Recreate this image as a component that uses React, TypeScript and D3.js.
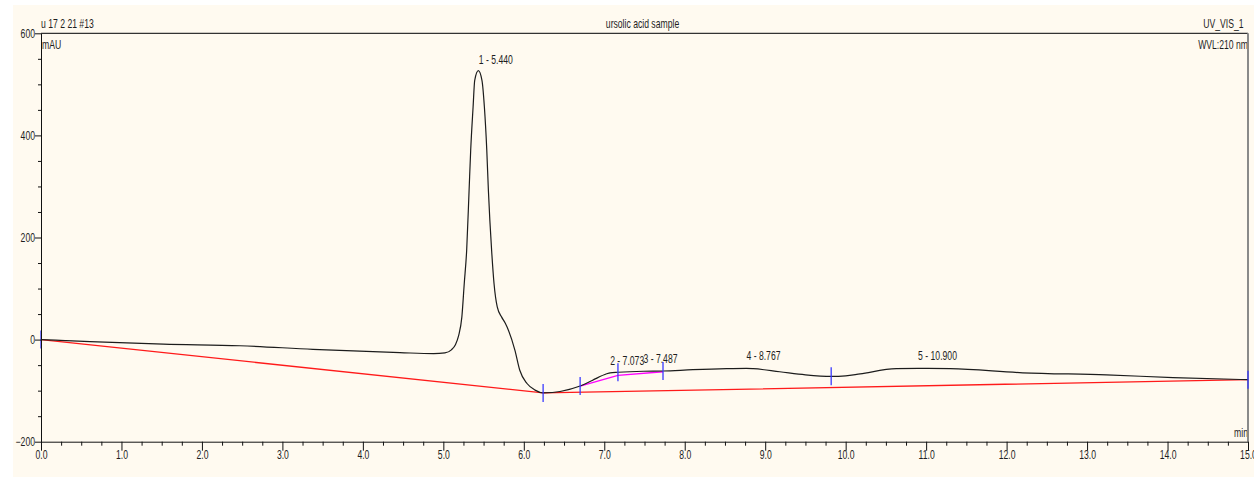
import React, { useEffect, useRef } from 'react'
import * as d3 from 'd3'

// chromatogram trace (min, mAU)
const signalTime = [
  0, 0.3, 0.61, 1.52, 2.47, 3.38, 4.46, 4.88, 5.02, 5.1, 5.15, 5.19, 5.23, 5.26, 5.29,
  5.32, 5.34, 5.37, 5.39, 5.435, 5.48, 5.51, 5.54, 5.56, 5.6, 5.63, 5.67, 5.725, 5.77,
  5.81, 5.89, 5.95, 6.04, 6.14, 6.24, 6.7, 6.85, 7.03, 7.073, 7.17, 7.487, 7.73, 8.1,
  8.52, 8.767, 8.85, 9.18, 9.5, 9.82, 10.0, 10.18, 10.63, 10.9, 11.3, 12.2, 13.24,
  14.07, 15.0,
]
const signalMAU = [
  0, -2, -4, -9, -12, -19, -25.5, -27.5, -26, -20, -10, 8, 44, 110, 175,
  292, 371, 456, 508, 527, 508, 456, 371, 292, 175, 110, 64, 44, 32,
  18, -21, -60, -86, -99, -104.5, -91, -80, -67, -65, -64, -62, -61.5, -59,
  -57, -56.5, -57, -63, -69, -72, -71, -67, -57, -56.5, -57, -65, -69,
  -74.5, -78.5,
]

// integration baselines
const baseTime = [0, 6.24, 15.0]
const baseMAU = [0, -104.5, -78.5]
const subBaseTime = [6.7, 7.17, 7.73]
const subBaseMAU = [-91, -70, -63]

// peak delimiters (min)
const delimiters = [0, 6.24, 6.7, 7.17, 7.73, 9.82, 15.0]

// peak labels
const peakNumber = [1, 2, 3, 4, 5]
const peakTime = ['5.440', '7.073', '7.487', '8.767', '10.900']

const yMajor = [-200, 0, 200, 400, 600]

const W = 1254
const H = 477
const SX = 0.72
const FONT = '"Liberation Sans", Arial, sans-serif'

const x = d3.scaleLinear().domain([0, 15]).range([41, 1248])
const y = d3.scaleLinear().domain([-200, 600]).range([441.7, 33.3])

const interp = (t: number) => {
  const i = d3.bisectLeft(signalTime, t)
  if (i <= 0) return signalMAU[0]
  if (i >= signalTime.length) return signalMAU[signalMAU.length - 1]
  const t0 = signalTime[i - 1], t1 = signalTime[i]
  const k = (t - t0) / (t1 - t0)
  return signalMAU[i - 1] + k * (signalMAU[i] - signalMAU[i - 1])
}

const T = ({ x, y, anchor = 'start', size = 12, children }: any) => (
  <text
    transform={`translate(${x},${y}) scale(${SX},1)`}
    textAnchor={anchor}
    fontSize={size}
    fontFamily={FONT}
    fill="#1e1e1e"
  >
    {children}
  </text>
)

export default function App() {
  const xAxisRef = useRef<SVGGElement>(null)
  const yAxisRef = useRef<SVGGElement>(null)

  useEffect(() => {
    const gx = d3.select(xAxisRef.current)
    gx.selectAll('*').remove()
    // minor ticks
    gx.append('g').call(
      d3.axisBottom(x)
        .tickValues(d3.range(0, 15.001, 0.25).filter(v => Math.abs(v - Math.round(v)) > 0.01))
        .tickSize(4)
        .tickSizeOuter(0)
        .tickFormat(() => '')
    ).call(g => g.select('.domain').remove())
    // major ticks
    gx.append('g').call(
      d3.axisBottom(x)
        .tickValues(d3.range(0, 15.001, 1))
        .tickSize(9)
        .tickSizeOuter(0)
        .tickPadding(0)
        .tickFormat(d3.format('.1f'))
    )
    gx.selectAll('text')
      .attr('font-family', FONT)
      .attr('font-size', 12)
      .attr('fill', '#1e1e1e')
      .attr('transform', `scale(${SX},1)`)

    const gy = d3.select(yAxisRef.current)
    gy.selectAll('*').remove()
    gy.append('g').call(
      d3.axisLeft(y)
        .tickValues(d3.range(-200, 600.001, 50).filter(v => v % 200 !== 0))
        .tickSize(3)
        .tickSizeOuter(0)
        .tickFormat(() => '')
    ).call(g => g.select('.domain').remove())
    gy.append('g').call(
      d3.axisLeft(y)
        .tickValues(yMajor)
        .tickSize(6)
        .tickSizeOuter(0)
        .tickPadding(0)
        .tickFormat(d3.format('d'))
    )
    gy.selectAll('text')
      .attr('font-family', FONT)
      .attr('font-size', 12)
      .attr('fill', '#1e1e1e')
      .attr('x', -6 / SX)
      .attr('transform', `scale(${SX},1)`)
  }, [])

  const trace = d3.line<number>()
    .x((_, i) => x(signalTime[i]))
    .y(d => y(d))
    .curve(d3.curveMonotoneX)(signalMAU)
  const base = d3.line<number>()
    .x((_, i) => x(baseTime[i]))
    .y(d => y(d))(baseMAU)
  const subBase = d3.line<number>()
    .x((_, i) => x(subBaseTime[i]))
    .y(d => y(d))(subBaseMAU)

  return (
    <div style={{ position: 'absolute', left: 0, top: 0 }}>
      <svg width={W} height={H} style={{ display: 'block', background: '#fff' }}>
        <rect x={13} y={5} width={W - 13} height={H - 5} fill="#FFFAF0" />

        <T x={41} y={27.5}>u 17 2 21 #13</T>
        <T x={642.5} y={27.5} anchor="middle">ursolic acid sample</T>
        <T x={1243.5} y={27.5} anchor="end">UV_VIS_1</T>
        <T x={42} y={49}>mAU</T>
        <T x={1248} y={49} anchor="end">WVL:210 nm</T>
        <T x={1248} y={437} anchor="end">min</T>

        <line x1={41} x2={1248} y1={33.3} y2={33.3} stroke="#333" strokeWidth={1.2} />
        <line x1={1248} x2={1248} y1={33.3} y2={441.7} stroke="#8a8a8a" strokeWidth={2} />

        <path d={base ?? ''} fill="none" stroke="#ff1a1a" strokeWidth={1.3} />
        <path d={subBase ?? ''} fill="none" stroke="#ff00ff" strokeWidth={1.3} />
        <path d={trace ?? ''} fill="none" stroke="#1c1c1c" strokeWidth={1.2} />

        {delimiters.map((t, i) => (
          <line
            key={i}
            x1={x(t)}
            x2={x(t)}
            y1={y(interp(t)) - 9}
            y2={y(interp(t)) + 9}
            stroke="#3a3aff"
            strokeWidth={1.3}
          />
        ))}

        {peakNumber.map((n, i) => {
          const t = +peakTime[i]
          return (
            <T key={n} x={x(t)} y={y(interp(t)) - 8} size={12}>
              {`${n} - ${peakTime[i]}`}
            </T>
          )
        })}

        <g ref={yAxisRef} transform="translate(41,0)" color="#111" />
        <g ref={xAxisRef} transform="translate(0,441.7)" color="#111" />
      </svg>
    </div>
  )
}
